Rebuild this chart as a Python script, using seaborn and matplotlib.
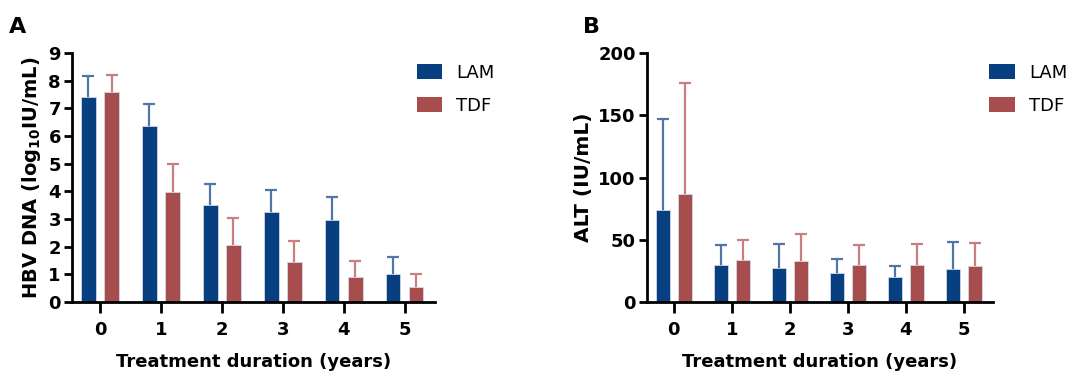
import numpy as np
import pandas as pd
import seaborn as sns
import matplotlib.pyplot as plt
from matplotlib.patches import Patch

sns.set_style("ticks")
plt.rcParams['font.family'] = ['DejaVu Sans']
plt.rcParams['text.color'] = 'black'
plt.rcParams['axes.labelcolor'] = 'black'
plt.rcParams['xtick.color'] = 'black'
plt.rcParams['ytick.color'] = 'black'

years = ["0", "1", "2", "3", "4", "5"]
groups = ["LAM", "TDF"]

# panel A: HBV DNA (log10 IU/mL), mean and upper SD
dna_lam = [7.42, 6.35, 3.50, 3.25, 2.97, 1.02]
dna_lam_sd = [0.77, 0.80, 0.78, 0.81, 0.82, 0.60]
dna_tdf = [7.61, 3.99, 2.07, 1.43, 0.92, 0.56]
dna_tdf_sd = [0.59, 1.00, 0.96, 0.76, 0.57, 0.45]

# panel B: ALT (IU/mL)
alt_lam = [73.7, 29.8, 27.2, 23.4, 20.2, 26.6]
alt_lam_sd = [73.3, 16.2, 19.1, 11.5, 8.6, 21.6]
alt_tdf = [87.0, 33.6, 32.8, 30.1, 29.8, 29.0]
alt_tdf_sd = [89.3, 16.2, 21.5, 15.9, 17.1, 18.2]

colors = {"LAM": "#083f80", "TDF": "#a84d4d"}
err_colors = {"LAM": "#5275a8", "TDF": "#c97f7f"}


def make_df(lam, tdf):
    return pd.DataFrame({
        "year": years * 2,
        "group": ["LAM"] * 6 + ["TDF"] * 6,
        "value": list(lam) + list(tdf),
    })


def draw_panel(ax, lam, lam_sd, tdf, tdf_sd, ylim, yticks, ylabel, ylab_size):
    df = make_df(lam, tdf)
    sns.barplot(data=df, x="year", y="value", hue="group", order=years,
                hue_order=groups, palette=colors, errorbar=None,
                width=0.76, gap=0.37, saturation=1, ax=ax,
                edgecolor="#d0d8e8", linewidth=0.6, legend=False, zorder=2)
    for cont, g, sd in zip(ax.containers, groups, [lam_sd, tdf_sd]):
        xs = [p.get_x() + p.get_width() / 2 for p in cont.patches]
        hs = [p.get_height() for p in cont.patches]
        # lower half hidden behind the bar, so only the upper whisker shows
        ax.errorbar(xs, hs, yerr=sd, fmt="none",
                    ecolor=err_colors[g], elinewidth=1.6, capsize=4,
                    capthick=1.6, zorder=1)
    ax.set_xlim(-0.46, 5.5)
    ax.set_ylim(*ylim)
    ax.set_yticks(yticks)
    sns.despine(ax=ax)
    for s in ["left", "bottom"]:
        ax.spines[s].set_linewidth(2)
        ax.spines[s].set_color("black")
        ax.spines[s].set_zorder(3)
    ax.tick_params(axis="x", length=8, width=2, labelsize=13, pad=6)
    ax.tick_params(axis="y", length=6, width=2, labelsize=13, pad=2)
    for t in ax.get_xticklabels() + ax.get_yticklabels():
        t.set_fontweight("bold")
    ax.set_xlabel("Treatment duration (years)", fontsize=13,
                  fontweight="bold", labelpad=10)
    ax.set_ylabel(ylabel, fontsize=ylab_size, fontweight="bold", labelpad=4)


fig = plt.figure(figsize=(10.85, 3.74), dpi=100)
axA = fig.add_axes([0.0664, 0.1925, 0.3346, 0.6655])
axB = fig.add_axes([0.5963, 0.1925, 0.3187, 0.6655])

draw_panel(axA, dna_lam, dna_lam_sd, dna_tdf, dna_tdf_sd, (0, 9),
           range(0, 10), r"HBV DNA (log$_{\mathbf{10}}$IU/mL)", 14)
draw_panel(axB, alt_lam, alt_lam_sd, alt_tdf, alt_tdf_sd, (0, 200),
           range(0, 201, 50), "ALT (IU/mL)", 14.5)

handles = [Patch(facecolor=colors[g], edgecolor="none", label=g) for g in groups]
for x in [0.369, 0.897]:
    fig.legend(handles=handles, loc="upper left", bbox_to_anchor=(x, 0.873),
               frameon=False, fontsize=13, handlelength=1.4,
               handleheight=0.9, labelspacing=0.85, handletextpad=0.8)

fig.text(0.008, 0.955, "A", fontsize=16, fontweight="bold", va="top")
fig.text(0.537, 0.955, "B", fontsize=16, fontweight="bold", va="top")

plt.savefig("out.png", dpi=100)
